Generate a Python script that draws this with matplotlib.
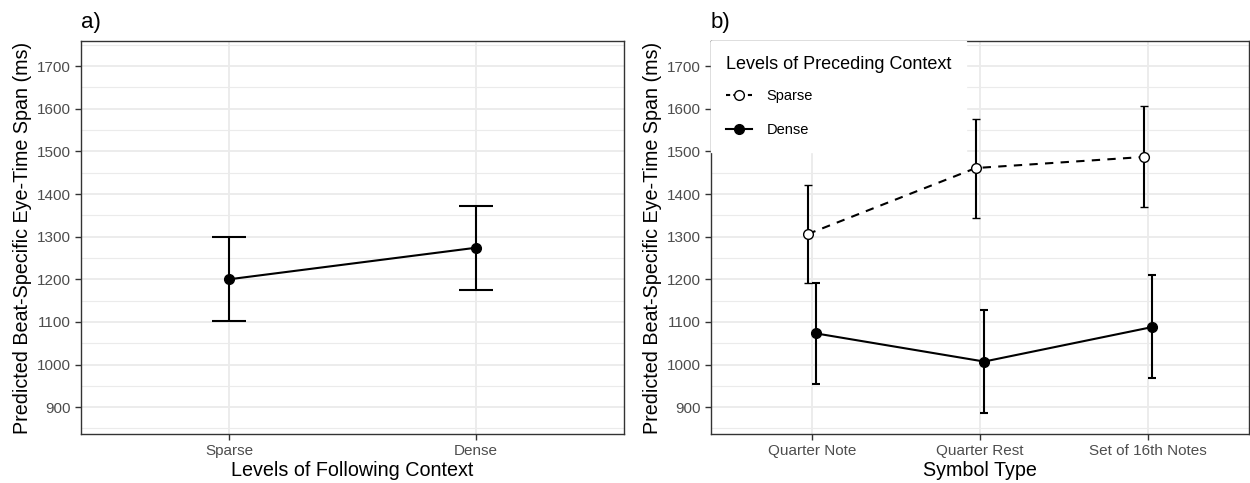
import numpy as np
import matplotlib
matplotlib.use("Agg")
import matplotlib.pyplot as plt
from matplotlib.lines import Line2D
from matplotlib.ticker import MultipleLocator

plt.rcParams['font.family'] = ['Liberation Sans', 'DejaVu Sans']

# panel a
follow_levels = ["Sparse", "Dense"]
follow_mean = [1200, 1274]
follow_lo = [1102, 1176]
follow_hi = [1299, 1373]

# panel b
symbols = ["Quarter Note", "Quarter Rest", "Set of 16th Notes"]
sparse_mean = [1306, 1461, 1487]
sparse_lo = [1192, 1343, 1369]
sparse_hi = [1422, 1577, 1606]
dense_mean = [1073, 1007, 1088]
dense_lo = [955, 887, 969]
dense_hi = [1192, 1128, 1210]

ylab = "Predicted Beat-Specific Eye-Time Span (ms)"
tick_col = "#4D4D4D"
grid_col = "#EBEBEB"


def style_axes(ax, n):
    ax.set_ylim(837, 1759)
    ax.set_xlim(-0.6, n - 1 + 0.6)
    ax.yaxis.set_minor_locator(MultipleLocator(50))
    ax.set_yticks(np.arange(900, 1701, 100))
    ax.grid(which='major', color=grid_col, lw=1.3, zorder=0)
    ax.grid(which='minor', axis='y', color=grid_col, lw=0.8, zorder=0)
    ax.set_axisbelow(True)
    ax.tick_params(which='minor', length=0)
    ax.tick_params(which='major', colors='#333333', labelcolor=tick_col,
                   labelsize=11, length=4, width=1)
    for s in ax.spines.values():
        s.set_color('#333333')
        s.set_linewidth(1.0)
    ax.set_ylabel(ylab, fontsize=14.2, labelpad=3)


fig = plt.figure(figsize=(12.5, 4.83), dpi=100)
axa = fig.add_axes([0.0648, 0.1014, 0.4344, 0.8137])
axb = fig.add_axes([0.5688, 0.1014, 0.4304, 0.8137])

# a)
xa = np.arange(len(follow_levels))
ya = np.array(follow_mean)
axa.plot(xa, ya, color='black', lw=1.5, zorder=3)
axa.errorbar(xa, ya, yerr=[ya - np.array(follow_lo), np.array(follow_hi) - ya],
             fmt='o', color='black', ms=7, capsize=12, elinewidth=1.5,
             capthick=1.5, zorder=4)
axa.set_xticks(xa)
axa.set_xticklabels(follow_levels)
style_axes(axa, len(follow_levels))
axa.set_xlabel("Levels of Following Context", fontsize=14.2, labelpad=2)
axa.text(0.0, 1.02, "a)", transform=axa.transAxes, fontsize=16, va='bottom')

# b)
xb = np.arange(len(symbols))
ys = np.array(sparse_mean)
yd = np.array(dense_mean)
axb.plot(xb - 0.025, ys, color='black', lw=1.5, ls=(0, (4, 3.5)), zorder=3)
axb.plot(xb + 0.025, yd, color='black', lw=1.5, zorder=3)
axb.errorbar(xb - 0.025, ys, yerr=[ys - np.array(sparse_lo), np.array(sparse_hi) - ys],
             fmt='o', mfc='white', mec='black', color='black', ms=7, mew=1.0,
             capsize=3, elinewidth=1.5, capthick=1.5, zorder=4)
axb.errorbar(xb + 0.025, yd, yerr=[yd - np.array(dense_lo), np.array(dense_hi) - yd],
             fmt='o', color='black', ms=7, capsize=3, elinewidth=1.5,
             capthick=1.5, zorder=4)
axb.set_xticks(xb)
axb.set_xticklabels(symbols)
style_axes(axb, len(symbols))
axb.set_xlabel("Symbol Type", fontsize=14.2, labelpad=2)
axb.text(0.0, 1.02, "b)", transform=axb.transAxes, fontsize=16, va='bottom')

handles = [
    Line2D([], [], color='black', lw=1.5, ls=(0, (2, 1.5)), marker='o',
           mfc='white', mec='black', ms=7, mew=1.0),
    Line2D([], [], color='black', lw=1.5, marker='o', ms=7),
]
leg = axb.legend(handles, ["Sparse", "Dense"], title="Levels of Preceding Context",
                 loc='upper left', bbox_to_anchor=(0.0, 1.0), frameon=True,
                 fontsize=10.5, title_fontsize=13, handlelength=1.8,
                 handletextpad=1.0, labelspacing=1.35, borderpad=1.0,
                 borderaxespad=0.0, fancybox=False)
leg.get_frame().set_facecolor('white')
leg.get_frame().set_edgecolor('white')
leg.get_frame().set_alpha(1.0)
leg._legend_box.align = "left"
leg._legend_box.sep = 12
leg.set_zorder(5)

fig.savefig("out.png", dpi=100)
